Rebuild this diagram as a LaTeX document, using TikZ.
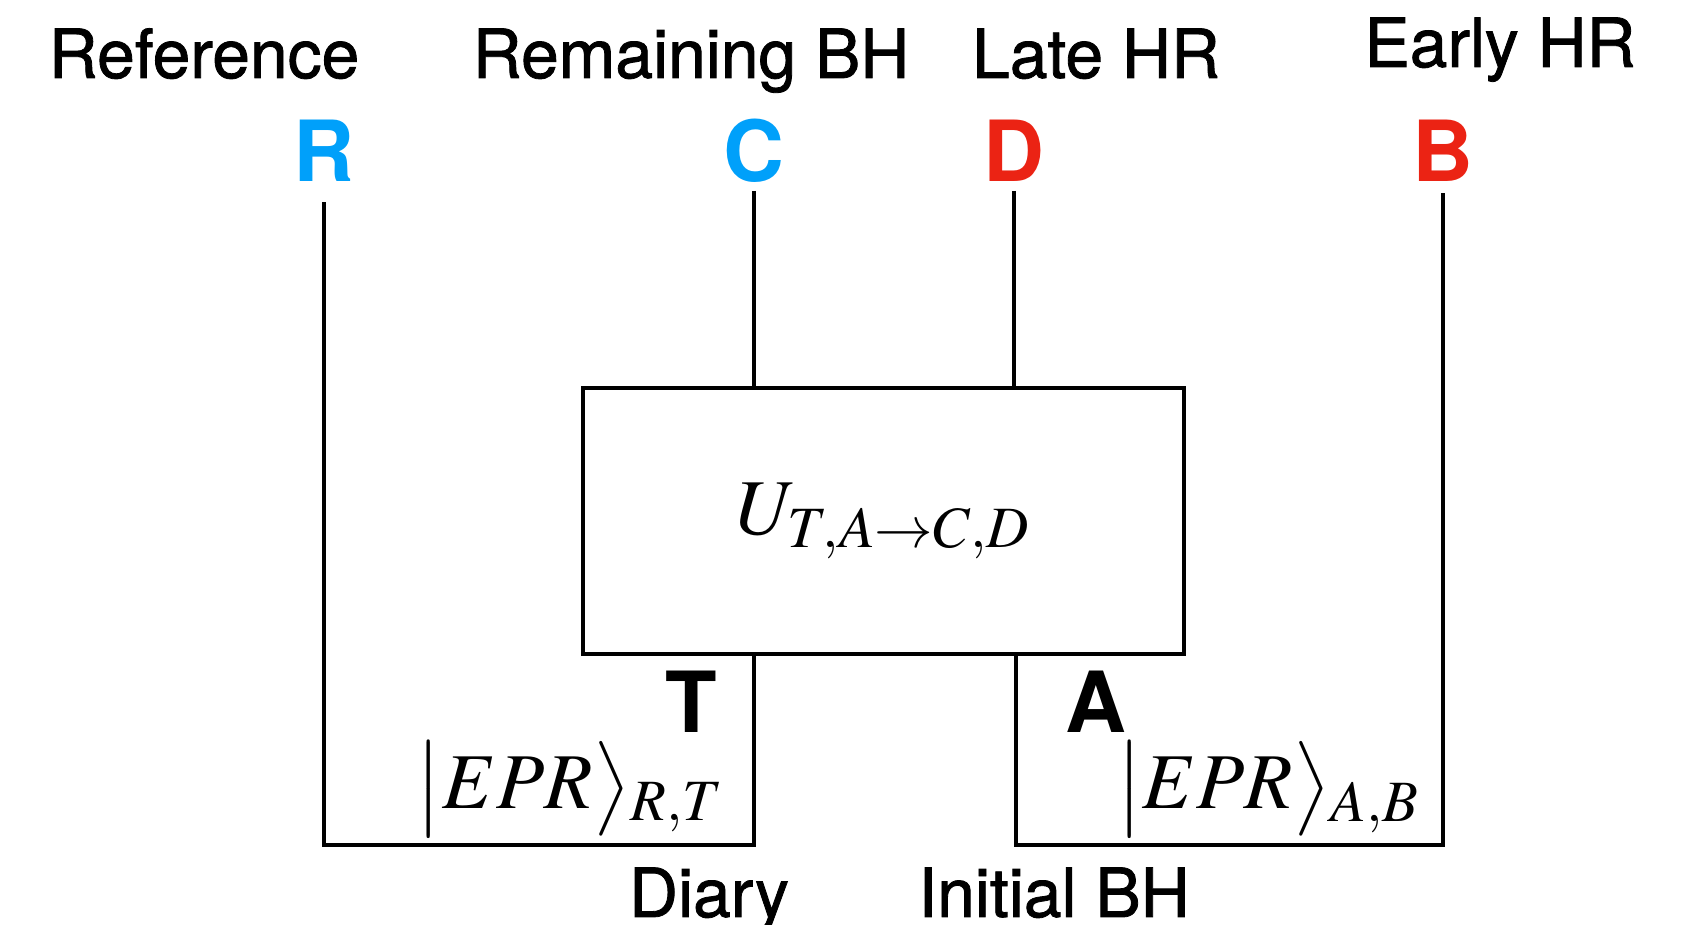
\documentclass[tikz,border=0pt]{standalone}
\usepackage{mathptmx}
\usepackage{fontspec}
\setmainfont{TeX Gyre Heros}
\newfontfamily\namefont[FakeBold=1.2]{TeX Gyre Heros}
\usepackage{xcolor}
\usepackage{tikz}
\usetikzlibrary{positioning}

\definecolor{qblue}{RGB}{0,160,250}
\definecolor{qred}{RGB}{235,35,20}

\begin{document}
\begin{tikzpicture}[
    wire/.style={line width=1.15pt},
    sysname/.style={font=\namefont\fontsize{19.3}{21}\selectfont, anchor=base},
    qubit/.style={font=\fontsize{24}{26}\selectfont\bfseries, anchor=base},
    mathlbl/.style={font=\fontsize{22.5}{24}\selectfont, anchor=base}
  ]
  \useasboundingbox (0,0) rectangle (16.81,9.25);

  % System names
  \node[sysname] (nref)  at (2.04, 8.47) {Reference};
  \node[sysname] (nrem)  at (6.91, 8.47) {Remaining BH};
  \node[sysname] (nlate) at (10.96, 8.47) {Late HR};
  \node[sysname] (nearly) at (15.00, 8.58) {Early HR};
  \node[sysname] (ndiary) at (7.09, 0.08) {Diary};
  \node[sysname] (ninit)  at (10.54, 0.08) {Initial BH};

  % Qubit letters
  \node[qubit, text=qblue] (R) at (3.24, 7.43) {R};
  \node[qubit, text=qblue] (C) at (7.54, 7.43) {C};
  \node[qubit, text=qred]  (D) at (10.14, 7.43) {D};
  \node[qubit, text=qred]  (B) at (14.43, 7.43) {B};
  \node[qubit] (T) at (6.91, 1.92) {T};
  \node[qubit] (A) at (10.96, 1.92) {A};

  % Unitary
  \node[draw, wire, minimum width=6.01cm, minimum height=2.66cm,
        font=\fontsize{22.5}{24}\selectfont] (U) at (8.835, 4.04) {$U_{T,A\to C,D}$};

  % EPR pairs
  \node[mathlbl] (eprRT) at (5.70, 1.16) {$\bigl|EPR\bigr\rangle{}_{R,T}$};
  \node[mathlbl] (eprAB) at (12.68, 1.16) {$\bigl|EPR\bigr\rangle{}_{A,B}$};

  % Wires
  \coordinate (rtop) at (3.24, 7.23);
  \coordinate (ctop) at (7.54, 7.34);
  \coordinate (dtop) at (10.14, 7.34);
  \coordinate (btop) at (14.43, 7.32);
  \coordinate (tbot) at (7.54, 0.80);
  \coordinate (abot) at (10.16, 0.80);

  \draw[wire] (ctop) -- (ctop |- U.north);
  \draw[wire] (dtop) -- (dtop |- U.north);
  \draw[wire] (tbot |- U.south) -- (tbot) -| (rtop);
  \draw[wire] (abot |- U.south) -- (abot) -| (btop);
\end{tikzpicture}
\end{document}
